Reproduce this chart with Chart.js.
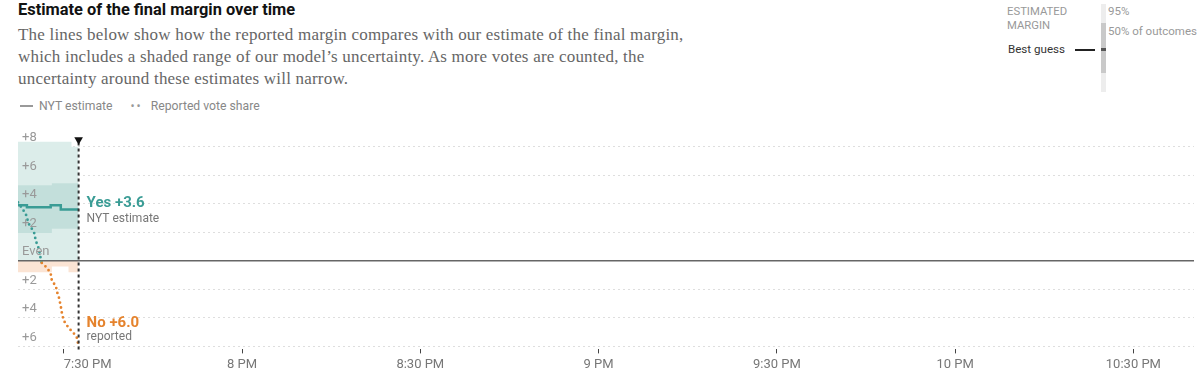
<!DOCTYPE html>
<html><head><meta charset="utf-8">
<script src="https://cdn.jsdelivr.net/npm/chart.js@4.4.1/dist/chart.umd.min.js"></script>
<style>
html,body{margin:0;padding:0;background:#fff}
body{width:1199px;height:378px;overflow:hidden;position:relative;font-family:Roboto,'Liberation Sans',sans-serif}
.abs{position:absolute;white-space:nowrap}
#title{left:18px;top:0;font-weight:700;font-size:16.4px;line-height:20px;color:#121212}
#sub{left:18px;top:24px;font-family:'Liberation Serif',serif;font-size:17px;letter-spacing:0.2px;line-height:22px;color:#666}
#leg{left:18px;top:99px;font-size:12.2px;line-height:15px;color:#888}
#leg .dash{display:inline-block;width:13px;height:1.5px;background:#999;vertical-align:middle;margin:0 6px 2px 2px}
#leg .dots{display:inline-block;margin:0 8px 0 18px;color:#999;letter-spacing:2px}
#wrap{left:0;top:120px;width:1199px;height:258px}
.tr{font-size:11.3px;line-height:13.5px;color:#999}
</style></head>
<body>
<div id="title" class="abs">Estimate of the final margin over time</div>
<div id="sub" class="abs">The lines below show how the reported margin compares with our estimate of the final margin,<br>which includes a shaded range of our model’s uncertainty. As more votes are counted, the<br>uncertainty around these estimates will narrow.</div>
<div id="leg" class="abs"><span class="dash"></span>NYT estimate<span class="dots">••</span>Reported vote share</div>

<div class="abs tr" style="left:1007px;top:5px">ESTIMATED<br>MARGIN</div>
<div class="abs" style="left:1008px;top:42px;font-size:11.6px;line-height:14px;color:#333">Best guess</div>
<div class="abs" style="left:1075px;top:49px;width:20px;height:1.5px;background:#222"></div>
<div class="abs" style="left:1101px;top:4px;width:5px;height:88px;background:#ededed"></div>
<div class="abs" style="left:1101px;top:23px;width:5px;height:50px;background:#c9c9c9"></div>
<div class="abs" style="left:1101px;top:48px;width:5px;height:3px;background:#555"></div>
<div class="abs tr" style="left:1108px;top:5px;font-size:11.5px">95%</div>
<div class="abs tr" style="left:1108px;top:25px;font-size:11.5px">50% of outcomes</div>

<div id="wrap" class="abs"><canvas id="c" width="1199" height="258"></canvas></div>

<script>
// ---- data (minutes after 7:00 PM, margin in points; + = Yes, - = No) ----
const xTickValues = [30, 60, 90, 120, 150, 180, 210];
const xTickLabels = ['7:30 PM', '8 PM', '8:30 PM', '9 PM', '9:30 PM', '10 PM', '10:30 PM'];
const yTickValues = [-6, -4, -2, 0, 2, 4, 6, 8];
const yTickLabels = ['+6', '+4', '+2', 'Even', '+2', '+4', '+6', '+8'];
const axisStart = 22.3, axisEnd = 220.2;
const marginMin = -6.22, marginMax = 8.62;

const estTimes = [22.3, 23.8, 27.8, 29.5, 32.5];
const estMargin = [3.9, 3.75, 3.9, 3.6, 3.6];

const reportedTimes = [22.3, 23.6, 24.1, 25.0, 25.3, 25.8, 26.1, 26.3, 27.2, 27.8, 28.0, 28.7, 28.8, 29.2, 29.5, 29.7, 30.0, 30.8, 31.7, 32.2, 32.5];
const reportedMargin = [4.1, 3.3, 2.6, 2.0, 1.4, 0.85, 0.2, -0.15, -0.5, -0.9, -1.4, -1.8, -2.1, -2.6, -3.2, -3.7, -4.2, -4.7, -5.1, -5.4, -6.0];

const bandTimes = [22.3, 28.0, 30.8, 31.3, 32.5];
const upper95 = [8.35, 8.35, 8.35, 8.0, 8.0];
const lower95 = [-0.8, -0.4, -0.8, -0.8, -0.8];
const upper50 = [5.3, 5.45, 5.45, 5.45, 5.3];
const lower50 = [1.95, 2.25, 2.25, 2.25, 2.25];

const nowTime = 32.5;
const nowMarkerTop = 8.5;

// ---- styles ----
const TEAL = '#3a9c95', ORANGE = '#e5832d';
const pts = (xs, ys) => xs.map((x, i) => ({x, y: ys[i]}));

const endLabels = {
  id: 'endLabels',
  afterDatasetsDraw(chart) {
    const {ctx, scales: {x, y}} = chart;
    const px = x.getPixelForValue(nowTime) + 8;
    const lastEst = estMargin[estMargin.length - 1];
    const lastRep = reportedMargin[reportedMargin.length - 1];
    const yE = y.getPixelForValue(lastEst), yR = y.getPixelForValue(lastRep);
    ctx.save();
    ctx.textAlign = 'left'; ctx.textBaseline = 'middle';
    const lab = (v) => (v >= 0 ? 'Yes +' : 'No +') + Math.abs(v).toFixed(1);
    ctx.font = 'bold 15px Roboto'; ctx.fillStyle = lastEst >= 0 ? TEAL : ORANGE;
    ctx.fillText(lab(lastEst), px, yE - 6);
    ctx.font = '12px Roboto'; ctx.fillStyle = '#777';
    ctx.fillText('NYT estimate', px, yE + 9);
    ctx.font = 'bold 15px Roboto'; ctx.fillStyle = lastRep >= 0 ? TEAL : ORANGE;
    ctx.fillText(lab(lastRep), px, yR - 23);
    ctx.font = '12px Roboto'; ctx.fillStyle = '#777';
    ctx.fillText('reported', px, yR - 9);
    ctx.restore();
  }
};

new Chart(document.getElementById('c'), {
  type: 'line',
  data: {
    datasets: [
      { // current time marker
        data: [{x: nowTime, y: marginMin}, {x: nowTime, y: nowMarkerTop}],
        borderColor: '#333', borderWidth: 2, borderDash: [3, 3],
        pointRadius: [0, 5], pointStyle: 'triangle', rotation: 180,
        pointBackgroundColor: '#111', pointBorderWidth: 0, clip: false
      },
      { // NYT estimate
        data: pts(estTimes, estMargin), stepped: true,
        borderColor: TEAL, borderWidth: 2.5, pointRadius: 0
      },
      { // reported vote share
        data: pts(reportedTimes, reportedMargin),
        borderWidth: 2.8, borderDash: [0, 5], borderCapStyle: 'round', pointRadius: 0,
        borderColor: TEAL,
        segment: { borderColor: c => ((c.p0.parsed.y + c.p1.parsed.y) / 2 >= 0 ? TEAL : ORANGE) }
      },
      { // zero line
        data: [{x: axisStart, y: 0}, {x: axisEnd, y: 0}],
        borderColor: '#666', borderWidth: 1.5, pointRadius: 0
      },
      { // 50% upper
        data: pts(bandTimes, upper50), stepped: true, borderWidth: 0, pointRadius: 0,
        fill: '+1', backgroundColor: '#c3dfdb'
      },
      { // 50% lower
        data: pts(bandTimes, lower50), stepped: true, borderWidth: 0, pointRadius: 0, fill: false
      },
      { // 95% upper
        data: pts(bandTimes, upper95), stepped: true, borderWidth: 0, pointRadius: 0,
        fill: {target: {value: 0}, above: '#dcedea', below: '#dcedea'}
      },
      { // 95% lower
        data: pts(bandTimes, lower95), stepped: true, borderWidth: 0, pointRadius: 0,
        fill: {target: {value: 0}, above: '#dcedea', below: '#fbe4d4'}
      }
    ]
  },
  options: {
    responsive: false, animation: false,
    layout: {padding: {top: 18, left: 10, right: 0, bottom: 2}},
    plugins: {legend: {display: false}, tooltip: {enabled: false}},
    elements: {line: {tension: 0}},
    scales: {
      x: {
        type: 'linear', min: axisStart, max: axisEnd,
        afterBuildTicks: s => { s.ticks = xTickValues.map(v => ({value: v})).concat([{value: axisEnd}]); },
        ticks: {
          align: 'inner', padding: 3.5, color: '#777', font: {family: 'Roboto', size: 13},
          maxRotation: 0, autoSkip: false,
          callback: (v, i) => (i < xTickLabels.length ? xTickLabels[i] : '')
        },
        grid: {
          drawOnChartArea: false, drawTicks: true, tickLength: 4, lineWidth: 1,
          color: c => (c.index < xTickValues.length ? '#444' : 'rgba(0,0,0,0)')
        },
        border: {display: false}
      },
      y: {
        type: 'linear', min: marginMin, max: marginMax, position: 'left',
        afterBuildTicks: s => { s.ticks = yTickValues.map(v => ({value: v})); },
        ticks: {
          mirror: true, padding: 4, labelOffset: -9, z: 1,
          color: '#999', font: {family: 'Roboto', size: 13},
          callback: (v, i) => yTickLabels[i]
        },
        grid: {
          drawTicks: false, lineWidth: 1,
          color: c => (c.tick && c.tick.value === 0 ? 'rgba(0,0,0,0)' : '#dedede')
        },
        border: {display: false, dash: [2, 3]}
      }
    }
  },
  plugins: [endLabels]
});
</script>
</body></html>
